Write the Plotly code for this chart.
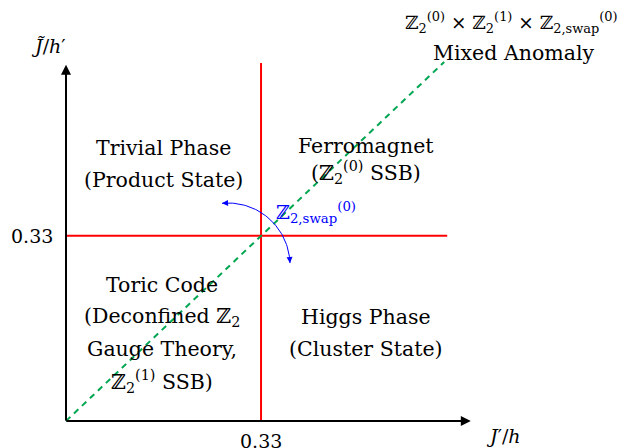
import numpy as np
import plotly.graph_objects as go

# ---- data ----
threshold_x = 0.33          # J'/h critical value
threshold_y = 0.33          # J~/h' critical value
x_axis_end = 0.685
y_axis_end = 0.635
diag_end = 0.64
tick_labels = ["0.33", "0.33"]
trivial_lines = ["Trivial Phase", "(Product State)"]
ferro_lines = ["Ferromagnet", "(ℤ<sub>2</sub><sup>(0)</sup> SSB)"]
toric_lines = ["Toric Code", "(Deconfined ℤ<sub>2</sub>", "Gauge Theory,", "ℤ<sub>2</sub><sup>(1)</sup> SSB)"]
higgs_lines = ["Higgs Phase", "(Cluster State)"]
anomaly_lines = ["ℤ<sub>2</sub><sup>(0)</sup> × ℤ<sub>2</sub><sup>(1)</sup> × ℤ<sub>2,swap</sub><sup>(0)</sup>", "Mixed Anomaly"]
swap_label = "ℤ<sub>2,swap</sub><sup>(0)</sup>"

# page has an 8px body margin; figure is drawn inside it
OFF = 8
W, H = 629 - OFF, 448 - OFF
px0, py0 = 66 - OFF, 421 - OFF
sx, sy = 591.0, 561.0
xr = [-px0 / sx, (W - px0) / sx]
yr = [-(H - py0) / sy, py0 / sy]

def dx(px):
    return (px - OFF - px0) / sx

def dy(py):
    return (py0 - (py - OFF)) / sy

FONT = "DejaVu Serif"
fs = 20.5

fig = go.Figure()

# red phase boundaries
fig.add_trace(go.Scatter(x=[threshold_x, threshold_x], y=[0, y_axis_end + 0.003], mode="lines",
                         line=dict(color="#ff0000", width=2), hoverinfo="skip"))
fig.add_trace(go.Scatter(x=[0, x_axis_end - 0.04], y=[threshold_y, threshold_y], mode="lines",
                         line=dict(color="#ff0000", width=2), hoverinfo="skip"))
# green dashed self-dual line
fig.add_trace(go.Scatter(x=[0, diag_end], y=[0, diag_end], mode="lines",
                         line=dict(color="#00a651", width=2, dash="6px,5px"), hoverinfo="skip"))

# blue swap arc
cx, cy, r = 228, 265, 62
a0 = np.arctan2(-(203 - cy), 222 - cx)
a1 = np.arctan2(-(263 - cy), 292 - cx)
t = np.linspace(a0, a1, 60)
arc_px = cx + r * np.cos(t)
arc_py = cy - r * np.sin(t)
fig.add_trace(go.Scatter(x=dx(arc_px), y=dy(arc_py), mode="lines",
                         line=dict(color="#0000ff", width=1), hoverinfo="skip"))

annotations = []
# arrowheads on arc
for i_tip, i_tail in [(0, 3), (-1, -4)]:
    annotations.append(dict(x=dx(arc_px[i_tip]), y=dy(arc_py[i_tip]), ax=dx(arc_px[i_tail]), ay=dy(arc_py[i_tail]),
                            xref="x", yref="y", axref="x", ayref="y", showarrow=True, arrowhead=2,
                            arrowsize=1.2, arrowwidth=1, arrowcolor="#0000ff", text=""))
# axes arrows
annotations.append(dict(x=x_axis_end, y=0, ax=-0.002, ay=0, xref="x", yref="y", axref="x", ayref="y",
                        showarrow=True, arrowhead=2, arrowsize=1, arrowwidth=2, arrowcolor="black", text=""))
annotations.append(dict(x=0, y=y_axis_end, ax=0, ay=-0.002, xref="x", yref="y", axref="x", ayref="y",
                        showarrow=True, arrowhead=2, arrowsize=1, arrowwidth=2, arrowcolor="black", text=""))

def txt(x, y, s, color="black", size=fs):
    annotations.append(dict(x=x, y=y, xref="x", yref="y", text=s, showarrow=False,
                            font=dict(family=FONT, size=size, color=color), xanchor="center", yanchor="middle"))

def block(lines, cxp, ys):
    for line, yp in zip(lines, ys):
        txt(dx(cxp), dy(yp), line)

block(trivial_lines, 163, [148, 180])
block(ferro_lines, 366, [146, 172])
block(toric_lines, 162, [285, 317, 349, 381])
block(higgs_lines, 366, [317, 349])
txt(dx(511), dy(22), anomaly_lines[0], size=18.5)
txt(dx(513), dy(53), anomaly_lines[1])
txt(dx(316), dy(212), swap_label, color="#0000ff", size=19)

txt(dx(261), dy(441), tick_labels[0], size=19)
txt(dx(32), dy(236), tick_labels[1], size=19)
txt(dx(48), dy(46), "<i>J̃</i>/<i>h</i>′", size=19)
txt(dx(503), dy(436), "<i>J</i>′/<i>h</i>", size=19)

fig.update_layout(width=W, height=H, margin=dict(l=0, r=0, t=0, b=0),
                  paper_bgcolor="white", plot_bgcolor="white", showlegend=False,
                  xaxis=dict(range=xr, visible=False, fixedrange=True),
                  yaxis=dict(range=yr, visible=False, fixedrange=True),
                  annotations=annotations)
fig.write_html("out.html")
